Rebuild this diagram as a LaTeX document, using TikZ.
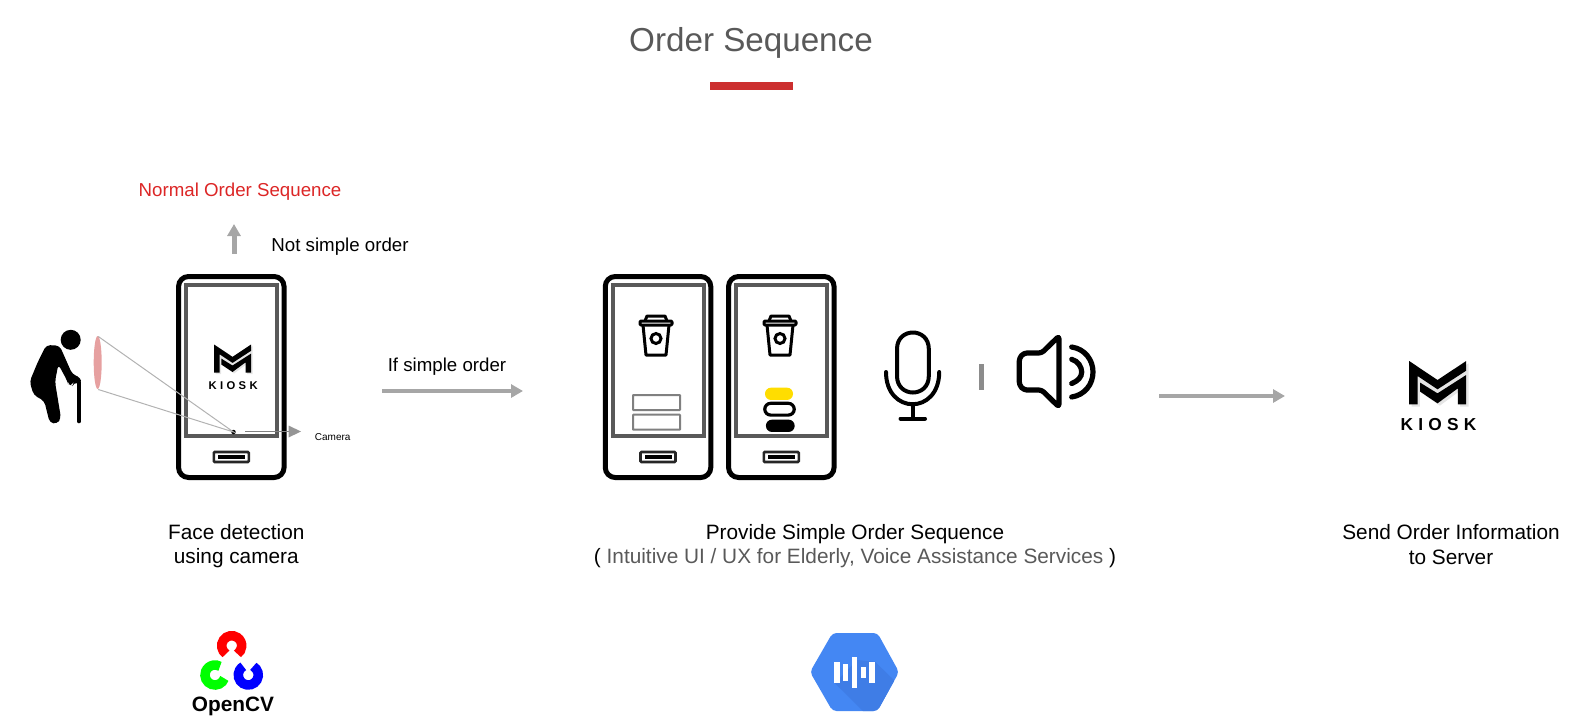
\documentclass[tikz,border=0pt]{standalone}
\usepackage{fontspec}
\setmainfont{Liberation Sans}
\newfontfamily\kioskfont[LetterSpace=30]{Liberation Sans Bold}
\usetikzlibrary{arrows.meta,positioning,calc,shapes.geometric}

\definecolor{screengray}{HTML}{595959}
\definecolor{arrowgray}{HTML}{A6A6A6}
\definecolor{titlegray}{HTML}{595959}
\definecolor{barred}{HTML}{CC2F2F}
\definecolor{textred}{HTML}{DC2626}
\definecolor{lenspink}{HTML}{E6A0A0}
\definecolor{speechblue}{HTML}{4487F3}
\definecolor{speechdark}{HTML}{3F7DE6}
\definecolor{pillyellow}{HTML}{FFDD00}

\tikzset{
	% phone parts
	phone/.style={draw=black, line width=5pt, rounded corners=10pt, minimum width=105.5pt, minimum height=201pt, inner sep=0pt},
	screen/.style={draw=screengray, line width=4pt, minimum width=91pt, minimum height=151.5pt, inner sep=0pt},
	homekey/.style={draw=black!85, line width=2.6pt, rounded corners=1pt, minimum width=35pt, minimum height=10pt, inner sep=0pt},
	homebar/.style={fill=black, minimum width=27pt, minimum height=3.5pt, inner sep=0pt},
	% texts
	caption/.style={font=\fontsize{18.7}{25}\selectfont, align=center, inner sep=0pt},
	stepnote/.style={font=\fontsize{20.8}{24.5}\selectfont, align=center, inner sep=0pt},
	% arrows
	flow/.style={draw=arrowgray, line width=4pt, -{Triangle[length=12pt,width=13pt]}},
	% kiosk logo
	kiosk/.pic={
		\begin{scope}[shift={(7,7)}]
			\fill[black!10] (-85,0) -- (0,57) -- (86,0) -- (86,130) -- (61,130) -- (61,82) -- (0,127) -- (-60,85) -- (-60,130) -- (-85,130) -- cycle;
		\end{scope}
		\fill[black] (-85,0) -- (0,57) -- (86,0) -- (86,29) -- (0,85) -- (-60,45) -- (-60,130) -- (-85,130) -- cycle;
		\fill[black] (-52,65) -- (0,97) -- (86,42) -- (86,130) -- (61,130) -- (61,82) -- (0,127) -- (-52,92) -- cycle;
		\node[transform shape, inner sep=0pt] at (3,190) {\kioskfont\fontsize{52}{52}\selectfont KIOSK};
	},
	cup/.pic={
		\draw[line width=3pt, line join=round] (-11,-7) -- (-9,-12) -- (9,-12) -- (11,-7);
		\draw[line width=3pt, line join=round, rounded corners=1pt] (-16,-7) rectangle (16,-3);
		\draw[line width=3pt, line join=round] (-13,-3) -- (-10,27) -- (10,27) -- (13,-3);
		\draw[line width=3pt] (0,10.5) circle (5);
	}
}

\begin{document}
\begin{tikzpicture}[x=1pt, y=-1pt]
	\useasboundingbox (0,0) rectangle (1590,721);

	% header
	\node (title) [inner sep=0pt, text=titlegray, font=\fontsize{33.2}{40}\selectfont] at (751,43) {Order Sequence};
	\node (titlebar) [fill=barred, minimum width=83pt, minimum height=8pt, inner sep=0pt] at (751.5,86) {};

	% phones
	\foreach \name/\px in {phoneA/231.3, phoneB/658, phoneC/781.3}{
		\node (\name) [phone] at (\px,377) {};
		\node (\name screen) [screen] at ($(\name.center)+(0,-16.7)$) {};
		\node (\name key) [homekey] at ($(\name.center)+(0,80)$) {};
		\node (\name bar) [homebar] at (\name key.center) {};
	}

	% person
	\node (head) [circle, fill=black, minimum size=20pt, inner sep=0pt] at (70.7,339.8) {};
	\begin{scope}[shift={(25,325)}, x=0.3333pt, y=-0.3333pt]
		\fill[black, rounded corners=4pt] (64,60) -- (104,62) -- (142,148) -- (168,158) -- (168,176) -- (146,172) -- (143,181) -- (130,179) -- (126,166) -- (100,118) -- (90,170) -- (108,280) -- (96,297) -- (74,293) -- (58,228) -- (26,210) -- (14,170) -- (38,112) -- cycle;
		\draw[black, line width=4.7pt, line cap=round] (162,172) -- (162,288);
	\end{scope}

	% view cone
	\node (lens) [ellipse, fill=lenspink, minimum width=8pt, minimum height=53pt, inner sep=0pt] at (97.7,362.5) {};
	\node (camdot) [circle, fill=black, minimum size=4.5pt, inner sep=0pt] at (233.5,432) {};
	\coordinate (lensT) at (98.3,336.5);
	\coordinate (lensB) at (98.3,389.5);
	\draw[black!30, line width=1pt] (lensT) -- (camdot.center) -- (lensB);
	\coordinate (camA) at (245.3,431.5);
	\coordinate (camB) at (301,431.5);
	\draw[gray, line width=1pt] (camA) -- (289,431.5);
	\fill[arrowgray!90!black] (288.5,425.5) -- (camB) -- (288.5,437.5) -- cycle;
	\node (camlabel) [inner sep=0pt, font=\fontsize{10}{12}\selectfont] at (332.7,437.5) {Camera};

	\pic[scale=0.2164] at (232.5,344.5) {kiosk};

	% cups
	\pic at (656,328) {cup};
	\pic at (780,328) {cup};

	% buttons on first screen
	\node (rectA) [draw=black!50, line width=2pt, rounded corners=0.5pt, minimum width=47pt, minimum height=15pt, inner sep=0pt] at (656.5,402.5) {};
	\node (rectB) [draw=black!50, line width=2pt, rounded corners=0.5pt, minimum width=47pt, minimum height=15pt, inner sep=0pt] at (656.5,422.2) {};

	% pills on second screen
	\node (pillA) [fill=pillyellow, rounded corners=6pt, minimum width=28pt, minimum height=12.3pt, inner sep=0pt] at (779,393.8) {};
	\node (pillB) [draw=black, line width=3.2pt, rounded corners=6pt, minimum width=29.5pt, minimum height=11.8pt, inner sep=0pt] at (779.5,409.2) {};
	\node (pillC) [fill=black, rounded corners=6pt, minimum width=28.7pt, minimum height=12.3pt, inner sep=0pt] at (780.3,425.8) {};

	% microphone
	\draw[line width=4pt] (897,349) .. controls (897,327) and (928.8,327) .. (928.8,349) -- (928.8,376) .. controls (928.8,398) and (897,398) .. (897,376) -- cycle;
	\draw[line width=4pt, line cap=round] (886,372) .. controls (886,415) and (939.2,415) .. (939.2,372);
	\draw[line width=4pt, line cap=round] (912.6,405) -- (912.6,418.5);
	\draw[line width=4pt, line cap=round] (900.5,418.5) -- (925,418.5);

	% separator
	\node (sep) [fill=black!45, minimum width=5pt, minimum height=26pt, inner sep=0pt] at (981.5,377) {};

	% speaker
	\draw[line width=5.2pt, line join=round, rounded corners=3pt] (1024,353) -- (1041.7,353) -- (1059,336) -- (1059,407) -- (1041.7,390) -- (1024,390) -- (1019.3,385) -- (1019.3,358) -- cycle;
	\draw[line width=5.2pt, line cap=round] (1071.7,359.3) .. controls (1078,361) and (1081.7,367) .. (1081.7,372) .. controls (1081.7,377) and (1078,381) .. (1071.7,383.5);
	\draw[line width=5.2pt, line cap=round] (1071.7,347) .. controls (1085,349) and (1093,360) .. (1093,372) .. controls (1093,384) and (1085,395) .. (1071.7,397);

	\pic[scale=0.3333] at (1437.5,361) {kiosk};

	% arrows
	\coordinate (upA) at (234,254);
	\coordinate (upB) at (234,224);
	\draw[flow, line width=5pt] (upA) -- (upB);
	\coordinate (ifA) at (382,391);
	\coordinate (ifB) at (523,391);
	\draw[flow] (ifA) -- (ifB);
	\coordinate (sendA) at (1159,396);
	\coordinate (sendB) at (1285,396);
	\draw[flow] (sendA) -- (sendB);

	% labels
	\node (normal) [caption, text=textred] at (240,192) {Normal Order Sequence};
	\node (notsimple) [caption] at (340,246.5) {Not simple order};
	\node (ifsimple) [caption] at (447,367) {If simple order};
	\node (facetext) [stepnote, below=44pt of phoneA, xshift=5pt] {Face detection\\using camera};
	\node (providetext) [stepnote] at (855,546) {Provide Simple Order Sequence\\( \textcolor{titlegray}{Intuitive UI / UX for Elderly, Voice Assistance Services} )};
	\node (sendtext) [stepnote] at (1451,544.5) {Send Order Information\\to Server};

	% opencv logo
	\draw[red, line width=9.5pt] (231.7,645.7) ++(125:10) arc[start angle=125, end angle=415, radius=10];
	\draw[green, line width=9.5pt] (215,675) ++(20:10) arc[start angle=20, end angle=300, radius=10];
	\draw[blue, line width=9.5pt] (248.3,675) ++(-60:10) arc[start angle=-60, end angle=240, radius=10];
	\node (opencv) [inner sep=0pt, font=\fontsize{20.8}{24}\bfseries\selectfont] at (233,706) {OpenCV};

	% speech logo
	\coordinate (hexL) at (810,672);
	\coordinate (hexTL) at (832.5,633);
	\coordinate (hexTR) at (877.5,633);
	\coordinate (hexR) at (899,672);
	\coordinate (hexBR) at (877.5,711);
	\coordinate (hexBL) at (832.5,711);
	\begin{scope}
		\clip[rounded corners=4pt] (hexL) -- (hexTL) -- (hexTR) -- (hexR) -- (hexBR) -- (hexBL) -- cycle;
		\fill[speechblue] (800,625) rectangle (905,720);
		\fill[speechdark] (857,660) -- (875,661.7) -- (900,686) -- (890,720) -- (872,720) -- (835,683.3) -- cycle;
	\end{scope}
	\foreach \bx/\bt/\bb in {834.3/661.7/683.3, 843/664.3/680.7, 851.7/656.7/688.3, 860.7/666.7/678, 869.3/661.7/683.3}{
		\fill[white] (\bx,\bt) rectangle ++(5.3,\bb-\bt);
	}
\end{tikzpicture}
\end{document}
